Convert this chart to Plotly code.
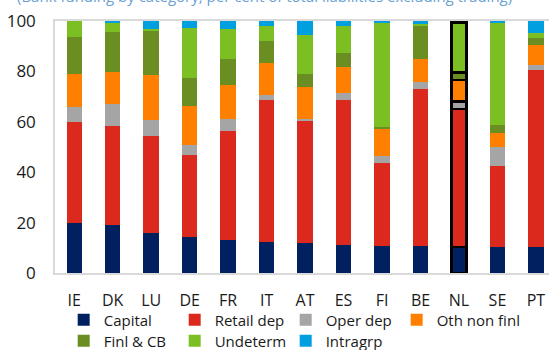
import plotly.graph_objects as go

# Funding structure by country, per cent of total
countries = ["IE", "DK", "LU", "DE", "FR", "IT", "AT", "ES", "FI", "BE", "NL", "SE", "PT"]

capital     = [20.0, 19.2, 15.7, 14.1, 13.2, 12.5, 11.8, 11.0, 10.6, 10.7, 10.3, 10.2, 10.2]
retail_dep  = [40.0, 39.3, 38.5, 32.9, 43.3, 56.3, 48.7, 57.8, 33.1, 62.5, 54.7, 32.3, 70.4]
oper_dep    = [6.0, 8.5, 6.6, 3.9, 4.5, 2.0, 0.7, 2.5, 2.8, 2.6, 3.0, 7.6, 2.0]
oth_nonfinl = [13.0, 12.7, 17.8, 15.4, 13.5, 12.4, 12.5, 10.5, 10.6, 9.0, 8.6, 5.4, 7.9]
finl_cb     = [14.8, 15.8, 17.6, 11.0, 10.6, 8.9, 5.2, 5.7, 0.8, 13.2, 2.9, 3.3, 2.9]
undeterm    = [6.2, 4.0, 0.6, 19.8, 11.7, 5.9, 15.6, 10.5, 41.2, 0.8, 20.0, 40.7, 1.7]
intragrp    = [0.0, 0.5, 3.2, 2.9, 3.2, 2.0, 5.5, 2.0, 0.9, 1.2, 0.5, 0.5, 4.9]

# (name, values, colour, legend group box)
series = [
    ("Capital", capital, "#002060", "legend"),
    ("Retail dep", retail_dep, "#dc291e", "legend"),
    ("Oper dep", oper_dep, "#a5a5a5", "legend"),
    ("Oth non finl", oth_nonfinl, "#ff8000", "legend2"),
    ("Finl & CB", finl_cb, "#6b8e23", "legend3"),
    ("Undeterm", undeterm, "#7cbf22", "legend3"),
    ("Intragrp", intragrp, "#00a0e0", "legend3"),
]

highlight = "NL"
line_w = [2.5 if c == highlight else 0 for c in countries]

fig = go.Figure()
for name, vals, color, leg in series:
    fig.add_trace(go.Bar(
        x=countries, y=vals, name=name, legend=leg,
        marker=dict(color=color, line=dict(color="black", width=line_w)),
        width=0.4,
    ))

font_main = "Open Sans, Noto Sans, sans-serif"
legend_font = dict(size=15, color="#1a1a1a")
col_step = 111 / 549
leg_x0 = 0.116


def legend_box(x, y, entrywidth):
    return dict(
        orientation="h", xref="container", x=x, xanchor="left",
        yref="container", y=y, yanchor="top",
        entrywidth=entrywidth, entrywidthmode="pixels",
        font=legend_font, traceorder="normal", itemwidth=30,
        bgcolor="rgba(0,0,0,0)",
    )


fig.update_layout(
    barmode="stack",
    width=549, height=350,
    margin=dict(l=55, r=0, t=21, b=77, autoexpand=False),
    paper_bgcolor="white", plot_bgcolor="white",
    font=dict(family=font_main, size=16, color="#1a1a1a"),
    showlegend=True,
    legend=legend_box(leg_x0, 0.133, 66),
    legend2=legend_box(leg_x0 + 3 * col_step, 0.133, 0),
    legend3=legend_box(leg_x0, 0.073, 66),
    xaxis=dict(
        range=[-0.5, 12.34], showline=True, mirror=True,
        linecolor="#d9d9d9", linewidth=1.5, ticks="", showgrid=False,
        ticklabelstandoff=12, tickfont=dict(size=16),
    ),
    yaxis=dict(
        range=[0, 100], dtick=20, showline=True, linecolor="#d9d9d9",
        linewidth=1.5, ticks="", showgrid=False, zeroline=False,
        ticklabelstandoff=14, tickfont=dict(size=17),
    ),
    annotations=[dict(
        text="(Bank funding by category, per cent of total liabilities excluding trading)",
        xref="paper", yref="paper", x=-0.08, y=1.0, xanchor="left", yanchor="bottom",
        yshift=13, showarrow=False,
        font=dict(family=font_main, size=15, color="#6a9fd4"),
    )],
)

fig.write_html("out.html")
